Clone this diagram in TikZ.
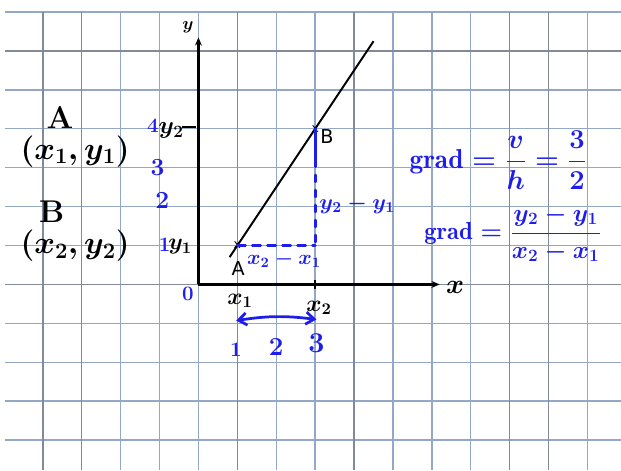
\RequirePackage{fix-cm}
\documentclass[tikz,border=0pt]{standalone}
\usepackage{amsmath,amssymb}
\usepackage{fontspec}
\newfontfamily\typedfont{DejaVu Sans}
\usepackage{tikz}
\usetikzlibrary{arrows.meta,calc}
\usepackage{xcolor}
\definecolor{pen}{RGB}{30,30,235}
\definecolor{gridblue}{RGB}{146,168,198}
\definecolor{griddark}{RGB}{128,138,152}

\tikzset{
  gridline/.style={gridblue, line width=1pt},
  gridlinedark/.style={griddark, line width=1.1pt},
  inkline/.style={black, line width=1.4pt},
  axisline/.style={black, line width=1.6pt, -{Stealth[length=6pt,width=5pt]}},
  bluepen/.style={pen, line width=2pt, line cap=round},
  bluetext/.style={text=pen, inner sep=0pt},
  inktext/.style={text=black, inner sep=0pt},
  marker/.style={text=black, inner sep=0pt, font=\typedfont\fontsize{9}{10}\selectfont},
  typedlabel/.style={text=black, inner sep=0pt, font=\typedfont\fontsize{14}{16}\selectfont},
}
% 手写体的字号
\newcommand{\hand}[1]{\fontsize{#1}{#1}\selectfont\bfseries\boldmath}

\begin{document}
\begin{tikzpicture}
    \useasboundingbox (-5.10,-4.77) rectangle (10.86,7.31);

    % 方格纸
    \foreach \y in {-4,...,7} \draw[gridline] (-4.97,\y) -- (10.86,\y);
    \foreach \x in {-4,...,10} \draw[gridline] (\x,7) -- (\x,-4.77);
    \foreach \x in {-4,-3,1,4,8,9} \draw[gridlinedark] (\x,7) -- (\x,-4.77);
    \foreach \y in {6,0} \draw[gridlinedark] (-4.97,\y) -- (10.86,\y);

    % 坐标轴
    \coordinate (O) at (0,0); \coordinate (xend) at (6.2,0); \coordinate (yend) at (0,6.35);
    \draw[axisline] (O) -- (xend);
    \draw[axisline] (O) -- (yend);
    \node[inktext, font=\hand{20}] (xlab) at (6.6,-0.07) {$x$};
    \node[inktext, font=\hand{13}] (ylab) at (-0.27,6.62) {$y$};

    % 两点与直线
    \node[marker] (A) at (1,1) {x}; \node[marker] (B) at (3,4) {x};
    \node[typedlabel] (tA) at (1.02,0.42) {A}; \node[typedlabel] (tB) at (3.3,3.8) {B};
    \draw[inkline] ($(A.center)!-0.1!(B.center)$) -- ($(A.center)!1.75!(B.center)$);

    % 刻度
    \coordinate (t4a) at (-0.42,4.05); \coordinate (t4b) at (-0.05,4.05);
    \draw[inkline] (t4a) -- (t4b);
    \coordinate (t3a) at (3,0.12); \coordinate (t3b) at (3,-0.12);
    \draw[inkline] (t3a) -- (t3b);

    % y 轴旁的数字
    \node[bluetext, font=\hand{15}] (n4) at (-1.17,4.09) {4};
    \node[inktext, font=\hand{18}] (ly2) at (-0.7,3.95) {$y_2$};
    \node[bluetext, font=\hand{18}] (n3) at (-1.05,3.0) {3};
    \node[bluetext, font=\hand{18}] (n2) at (-0.93,2.17) {2};
    \node[bluetext, font=\hand{15}] (n1) at (-0.87,1.03) {1};
    \node[inktext, font=\hand{17}] (ly1) at (-0.47,0.96) {$y_1$};
    \node[bluetext, font=\hand{15}] (n0) at (-0.27,-0.24) {$0$};

    % x 轴下方
    \node[inktext, font=\hand{17}] (lx1) at (1.07,-0.42) {$x_1$};
    \node[inktext, font=\hand{17}] (lx2) at (3.1,-0.6) {$x_2$};
    \coordinate (h1) at (0.97,-0.93); \coordinate (h2) at (3.03,-0.9);
    \draw[bluepen, {Straight Barb[length=6pt,width=9pt]}-{Straight Barb[length=6pt,width=9pt]}] (h1) to[bend left=8] (h2);
    \node[bluetext, font=\hand{15}] (m1) at (0.96,-1.68) {1};
    \node[bluetext, font=\hand{19}] (m2) at (2.0,-1.62) {2};
    \node[bluetext, font=\hand{21}] (m3) at (3.03,-1.5) {3};

    % 竖直与水平的差
    \coordinate (C) at (3,1); \coordinate (Bmid) at (3,3.2);
    \draw[bluepen, dash pattern=on 6pt off 5pt] (A.center) -- (C);
    \draw[bluepen] (B.center) -- (Bmid);
    \draw[bluepen, dash pattern=on 5pt off 6pt] (Bmid) -- (C);
    \node[bluetext, font=\hand{15}] (dx) at (2.2,0.64) {$x_2-x_1$};
    \node[bluetext, anchor=west, font=\hand{16}] (dy) at (3.1,2.05) {$y_2-y_1$};

    % 左侧坐标
    \node[inktext, font=\hand{23}] (lA) at (-3.56,4.28) {A};
    \node[inktext, font=\hand{23}] (cA) at (-3.17,3.42) {$(x_1,y_1)$};
    \node[inktext, font=\hand{23}] (lB) at (-3.77,1.86) {B};
    \node[inktext, font=\hand{23}] (cB) at (-3.17,1.0) {$(x_2,y_2)$};

    % 斜率
    \node[bluetext, anchor=west, font=\hand{20}] (g1) at (5.42,3.2) {$\mathrm{grad}=\dfrac{v}{h}=\dfrac{3}{2}$};
    \node[bluetext, anchor=west, font=\hand{18}] (g2) at (5.8,1.3) {$\mathrm{grad}=\dfrac{y_2-y_1}{x_2-x_1}$};
\end{tikzpicture}
\end{document}
